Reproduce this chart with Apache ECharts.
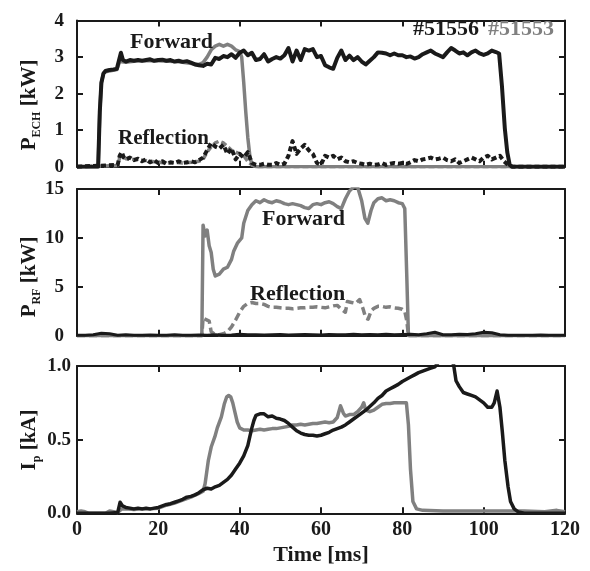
<!DOCTYPE html>
<html><head><meta charset="utf-8">
<script src="https://cdn.jsdelivr.net/npm/echarts@6/dist/echarts.min.js"></script>
<style>html,body{margin:0;padding:0;background:#fff}#c{width:590px;height:571px}</style>
</head><body><div id="c"></div>
<script>
// ---------- DATA ----------
const xTicks = [0, 20, 40, 60, 80, 100, 120];
// Panel 1: ECH power [kW]
const tEchFwdBlk = [0,5.2,5.6,6,6.5,7,8,9,9.8,10.3,10.8,11.3,12,13,14,15,16,17,18,19,20,21,22,23,24,25,26,27,28,29,30,31,32,33,34,35,36,37,38,39,40,41,42,43,44,45,46,47,48,49,50,51,52,53,54,55,56,57,58,59,60,61,62,63,64,65,66,67,68,69,70,71,72,73,74,75,76,77,78,79,80,81,82,83,84,85,86,87,88,89,90,91,92,93,94,95,96,97,98,99,100,101,102,103,103.8,104.5,105.2,105.8,106.4,107,120];
const vEchFwdBlk = [0,0,1.5,2.3,2.55,2.62,2.65,2.66,2.68,2.9,3.12,2.92,2.88,2.92,2.9,2.92,2.9,2.92,2.94,2.9,2.92,2.93,2.9,2.92,2.88,2.9,2.87,2.89,2.85,2.8,2.78,2.76,2.82,2.8,2.98,2.95,3.03,3.0,3.08,2.98,3.12,3.18,3.05,3.12,2.92,2.95,3.08,2.88,2.95,3.0,2.96,3.05,3.25,2.88,3.18,2.92,3.22,3.18,3.22,3.0,3.03,2.78,2.72,2.68,2.98,3.18,2.92,3.04,2.92,3.0,2.88,2.8,2.9,3.0,3.13,3.12,3.1,3.05,3.1,3.05,3.05,3.0,3.02,2.96,3.0,3.08,3.13,3.18,3.1,3.05,3.0,3.13,3.25,3.18,3.1,3.13,3.05,3.13,3.18,3.1,3.06,3.1,3.18,3.14,3.1,2.2,1.05,0.4,0.05,0,0];
const tEchFwdGry = [0,5.2,5.6,6,6.5,7,9.8,10.5,12,15,20,25,30,31,32,33,34,35,36,37,38,39,40,40.5,41,41.5,42,42.5,43,44,120];
const vEchFwdGry = [0,0,1.5,2.3,2.55,2.6,2.66,2.88,2.86,2.9,2.9,2.87,2.8,2.85,3.0,3.2,3.3,3.35,3.3,3.35,3.3,3.2,3.15,3.0,2.3,1.5,0.8,0.3,0.05,0,0];
const tEchRefBlk = [0,10,10.5,11,11.5,12,13,14,15,16,17,18,19,20,21,22,23,24,25,26,27,28,29,30,31,32,33,34,35,36,37,38,39,40,41,42,43,44,45,46,47,48,49,50,51,52,53,54,55,56,57,58,59,60,61,62,63,64,65,66,67,68,69,70,71,72,73,74,75,76,77,78,79,80,81,82,83,84,85,86,87,88,89,90,91,92,93,94,95,96,97,98,99,100,101,102,103,104,105,106,107,120];
const vEchRefBlk = [0,0.05,0.3,0.4,0.25,0.2,0.25,0.18,0.22,0.15,0.2,0.12,0.18,0.1,0.15,0.08,0.12,0.1,0.15,0.1,0.12,0.15,0.12,0.18,0.25,0.45,0.65,0.55,0.5,0.6,0.35,0.5,0.2,0.35,0.25,0.4,0.1,0.05,0.05,0.08,0.05,0.05,0.1,0.05,0.08,0.3,0.7,0.35,0.5,0.6,0.45,0.35,0.1,0.05,0.3,0.25,0.3,0.2,0.25,0.15,0.12,0.15,0.1,0.08,0.05,0.08,0.05,0.06,0.1,0.05,0.08,0.1,0.08,0.1,0.08,0.12,0.18,0.15,0.2,0.22,0.25,0.2,0.22,0.25,0.18,0.15,0.2,0.1,0.15,0.2,0.25,0.2,0.15,0.25,0.3,0.2,0.25,0.3,0.15,0.05,0,0];
const tEchRefGry = [0,10,10.5,11,12,14,16,18,20,22,24,26,28,30,31,32,33,34,35,36,37,38,39,40,41,42,43,44,120];
const vEchRefGry = [0,0.03,0.25,0.3,0.22,0.2,0.18,0.15,0.12,0.1,0.12,0.1,0.12,0.15,0.2,0.4,0.55,0.65,0.7,0.65,0.55,0.45,0.4,0.35,0.3,0.15,0.05,0,0];
// Panel 2: RF power [kW]
const tRfFwdGry = [0,30.7,31,31.5,32,32.5,33,33.5,34,35,36,37,38,38.5,39.5,40.5,41,42,43,44,45,46,47,48,49,50,51,52,53,54,55,56,57,58,59,60,61,62,63,64,65,66,67,68,69,70,70.8,71.5,72.3,73,74,75,76,77,78,79,80,80.6,81.1,81.5,120];
const vRfFwdGry = [0,0,11.3,10.2,10.8,9.2,8.5,6.8,6.1,6.3,6.8,7.0,7.8,8.6,9.5,10,11.5,12.8,13.4,13.8,13.6,13.9,13.7,13.6,13.8,13.7,13.5,13.4,13.5,13.4,13.3,13.1,13.0,13.4,13.5,13.4,13.6,13.7,13.5,13.2,13.0,14.0,14.8,15.2,15.2,13.8,12.0,11.5,12.8,13.6,14.0,14.1,13.8,13.9,13.8,13.6,13.5,13.0,6,0,0];
const tRfRefGry = [0,30.7,31,32,32.5,33,34,35,36,37,38,39,40,41,42,43,44,45,46,47,48,49,50,51,52,53,54,55,56,57,58,59,60,61,62,63,64,65,66,66.5,67.5,68.5,69.5,70.3,71,71.6,72.3,73,74,75,76,77,78,79,80,80.6,81.1,81.5,120];
const vRfRefGry = [0,0,1.8,1.6,1.5,0.4,0.1,0.1,0.2,0.4,0.9,1.6,2.4,3.0,3.3,3.4,3.3,3.3,3.2,3.0,2.9,2.9,2.85,2.8,2.8,2.75,2.8,2.85,2.85,2.9,2.9,2.95,2.9,2.85,2.95,3.05,3.1,2.7,2.4,3.5,3.4,3.3,3.7,2.8,1.8,1.7,2.5,2.8,3.0,3.0,2.9,2.95,2.85,2.8,2.7,2.5,1.5,0,0];
const tRfBlk = [0,2,4,6,8,10,12,14,16,18,20,22,24,26,28,30,32,34,36,38,40,42,44,46,48,50,52,54,56,58,60,62,64,66,68,70,72,74,76,78,80,82,84,86,88,90,92,94,96,98,100,102,104,106,108,110,112,114,116,118,120];
const vRfBlk = [0.05,0.05,0.1,0.25,0.2,0.05,0.1,0.05,0.05,0.08,0.05,0.05,0.1,0.05,0.05,0.08,0.05,0.1,0.05,0.08,0.15,0.1,0.1,0.08,0.1,0.12,0.08,0.1,0.12,0.1,0.08,0.12,0.1,0.1,0.15,0.1,0.12,0.1,0.15,0.1,0.12,0.15,0.1,0.2,0.35,0.1,0.1,0.15,0.12,0.2,0.35,0.3,0.1,0.05,0.05,0.05,0.05,0.08,0.05,0.05,0.05];
// Panel 3: plasma current [kA]
const tIpBlk = [0,8,10,10.6,11.2,12,13,14,15,16,17,18,19,20,21,22,23,24,25,26,27,28,29,30,31,32,33,34,35,36,37,38,39,40,41,42,42.5,43,43.5,44,45,46,47,48,49,50,51,52,53,54,55,56,57,58,59,60,61,62,63,64,65,66,67,68,69,70,71,72,73,74,75,76,77,78,79,80,81,82,83,84,85,86,87,88,88.5,89,90,91,92,92.6,93.2,94,95,96,97,98,99,100,101,102,102.6,103.3,104,104.6,105.2,106,106.6,107.5,108.5,110,120];
const vIpBlk = [0,0,0.005,0.075,0.05,0.04,0.035,0.03,0.035,0.03,0.035,0.03,0.035,0.04,0.05,0.06,0.065,0.075,0.085,0.095,0.11,0.115,0.125,0.14,0.16,0.17,0.165,0.18,0.19,0.21,0.23,0.26,0.3,0.34,0.39,0.46,0.52,0.58,0.63,0.665,0.675,0.675,0.655,0.66,0.645,0.64,0.63,0.61,0.585,0.56,0.545,0.535,0.53,0.53,0.525,0.53,0.54,0.55,0.565,0.575,0.585,0.6,0.62,0.64,0.66,0.68,0.7,0.725,0.75,0.78,0.8,0.83,0.845,0.86,0.875,0.895,0.91,0.925,0.94,0.955,0.965,0.975,0.985,0.995,1.01,1.03,1.04,1.04,1.04,1.01,0.9,0.86,0.82,0.81,0.8,0.79,0.77,0.75,0.72,0.72,0.75,0.83,0.72,0.55,0.36,0.18,0.08,0.03,0.01,0,0];
const tIpGry = [0,1,2,3,7,8,9,10,11,12,14,16,18,20,22,24,26,28,30,31,31.5,32.3,33,33.9,34.5,35.5,36.2,36.8,37.3,37.8,38.3,38.8,39.4,40,41,42,43,44,45,46,47,48,49,50,51,52,53,54,55,56,57,58,59,60,61,62,63,64,64.8,65.5,66,67,68,69,70,70.5,71,72,73,74,75,76,77,78,79,80,81,81.5,82,82.6,83.5,85,90,100,110,115,118,120];
const vIpGry = [0.01,0.015,0.01,0,0,0.015,0.01,0.005,0.03,0.03,0.025,0.03,0.03,0.035,0.055,0.07,0.09,0.11,0.135,0.15,0.2,0.36,0.45,0.52,0.58,0.655,0.74,0.79,0.8,0.79,0.75,0.69,0.62,0.58,0.565,0.565,0.56,0.565,0.57,0.565,0.57,0.575,0.575,0.58,0.585,0.59,0.6,0.6,0.605,0.6,0.605,0.61,0.61,0.615,0.62,0.615,0.62,0.65,0.73,0.68,0.66,0.67,0.67,0.69,0.72,0.75,0.7,0.69,0.7,0.72,0.74,0.745,0.745,0.75,0.75,0.75,0.75,0.6,0.3,0.08,0.03,0.02,0.015,0.015,0.015,0.01,0.02,0.01];

// ---------- CHART ----------
const BLK = '#1a1a1a', GRY = '#808080';
const FONT = 'Liberation Serif';
const zip = (t, v) => t.map((x, i) => [x, v[i]]);
const L = 77, R = 25;
const grids = [
  {left: L, right: R, top: 20.6, height: 146.1},
  {left: L, right: R, top: 189, height: 146.7},
  {left: L, right: R, top: 366, height: 147.3}
];
const yCfg = [
  {min: 0, max: 4, interval: 1, margin: 13, fmt: v => String(v)},
  {min: 0, max: 15, interval: 5, margin: 13, fmt: v => String(v)},
  {min: 0, max: 1, interval: 0.5, margin: 6, fmt: v => v.toFixed(1)}
];
const axLine = {show: true, onZero: false, lineStyle: {color: BLK, width: 2}};
const axTick = {show: true, inside: true, length: 6, lineStyle: {color: BLK, width: 2}};
const xAxis = [], yAxis = [];
grids.forEach((g, i) => {
  const last = i === 2;
  xAxis.push({type: 'value', gridIndex: i, position: 'bottom', min: xTicks[0], max: xTicks[xTicks.length-1], interval: 20,
    axisLine: axLine, axisTick: axTick, splitLine: {show: false},
    axisLabel: {show: last, margin: 7, color: BLK, fontFamily: FONT, fontWeight: 'bold', fontSize: 20},
    name: last ? 'Time [ms]' : '', nameLocation: 'middle', nameGap: 31,
    nameTextStyle: {color: BLK, fontFamily: FONT, fontWeight: 'bold', fontSize: 22}});
  xAxis.push({type: 'value', gridIndex: i, position: 'top', min: 0, max: 120, interval: 20,
    axisLine: axLine, axisTick: axTick, splitLine: {show: false}, axisLabel: {show: false}});
  const c = yCfg[i];
  yAxis.push({type: 'value', gridIndex: i, position: 'left', min: c.min, max: c.max, interval: c.interval,
    axisLine: axLine, axisTick: axTick, splitLine: {show: false},
    axisLabel: {margin: c.margin, color: BLK, fontFamily: FONT, fontWeight: 'bold', fontSize: 19, formatter: c.fmt}});
  yAxis.push({type: 'value', gridIndex: i, position: 'right', min: c.min, max: c.max, interval: c.interval,
    axisLine: axLine, axisTick: axTick, splitLine: {show: false}, axisLabel: {show: false}});
});
function line(gi, data, color, width, dash) {
  return {type: 'line', xAxisIndex: gi*2, yAxisIndex: gi*2, data, showSymbol: false, symbol: 'none',
    lineStyle: {color, width, type: dash || 'solid', cap: 'butt', join: 'round'}, clip: true, z: color === BLK ? 3 : 2};
}
const series = [
  line(0, zip(tEchFwdGry, vEchFwdGry), GRY, 3.5),
  line(0, zip(tEchRefGry, vEchRefGry), GRY, 3.5, [6, 3]),
  line(0, zip(tEchFwdBlk, vEchFwdBlk), BLK, 4),
  line(0, zip(tEchRefBlk, vEchRefBlk), BLK, 4, [5, 3]),
  line(1, zip(tRfBlk, vRfBlk), BLK, 3),
  line(1, zip(tRfFwdGry, vRfFwdGry), GRY, 3.5),
  line(1, zip(tRfRefGry, vRfRefGry), GRY, 3.5, [8, 4]),
  line(2, zip(tIpGry, vIpGry), GRY, 3.5),
  line(2, zip(tIpBlk, vIpBlk), BLK, 3.5)
];
const tstyle = (fs, color) => ({fontFamily: FONT, fontWeight: 'bold', fontSize: fs, fill: color});
function label(x, y, text, fs, color) {
  return {type: 'text', x, y, z: 10, style: Object.assign(tstyle(fs, color), {text, align: 'left', verticalAlign: 'middle'})};
}
function ytitle(x, y, main, sub, unit) {
  return {type: 'text', x, y, rotation: Math.PI / 2, z: 10,
    style: {text: '{p|' + main + '}{s|' + sub + '}{u| ' + unit + '}', align: 'center', verticalAlign: 'middle',
      rich: {
        p: {fontFamily: FONT, fontWeight: 'bold', fontSize: 21, lineHeight: 26, fill: BLK},
        u: {fontFamily: FONT, fontWeight: 'bold', fontSize: 21, lineHeight: 26, fill: BLK},
        s: {fontFamily: FONT, fontWeight: 'bold', fontSize: 12, lineHeight: 12, verticalAlign: 'bottom', fill: BLK}
      }}};
}
const graphic = [
  ytitle(30, 105, 'P', 'ECH', '[kW]'),
  ytitle(30, 277, 'P', 'RF', '[kW]'),
  ytitle(30, 440, 'I', 'p', '[kA]'),
  label(130, 42.5, 'Forward', 22, BLK),
  label(118, 139, 'Reflection', 21, BLK),
  label(413, 29.5, '#51556', 22, BLK),
  label(488, 29.5, '#51553', 22, GRY),
  label(262, 219.7, 'Forward', 22, BLK),
  label(250, 294.7, 'Reflection', 22, BLK)
];
const chart = echarts.init(document.getElementById('c'), null, {renderer: 'canvas'});
chart.setOption({animation: false, backgroundColor: '#fff', grid: grids, xAxis, yAxis, series, graphic});
</script></body></html>
